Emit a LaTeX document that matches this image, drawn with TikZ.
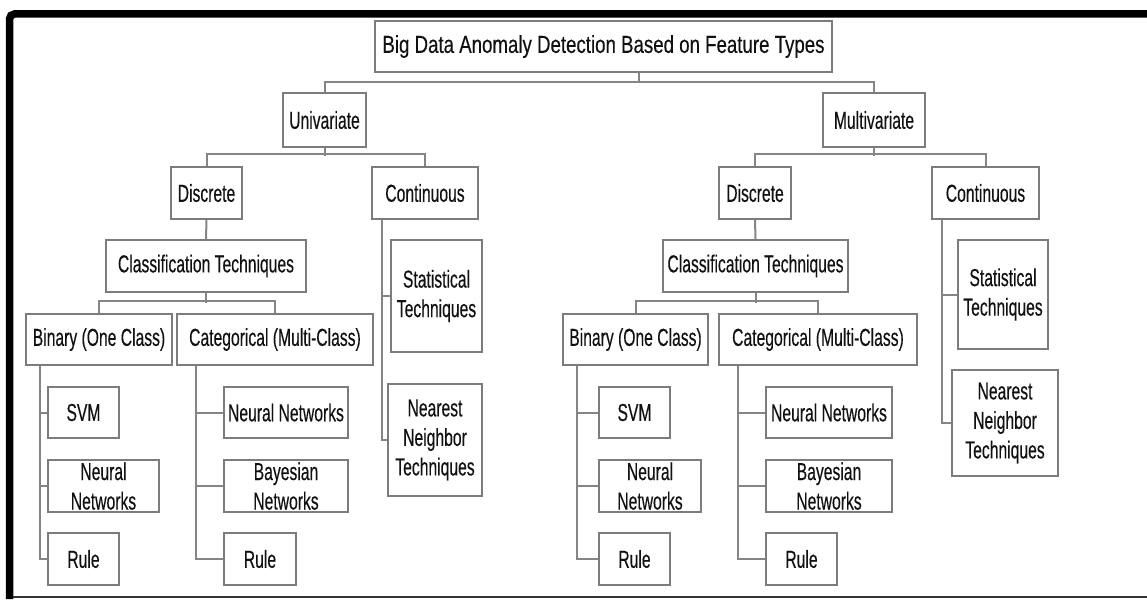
\documentclass[tikz,border=0pt]{standalone}
\usepackage{fontspec}
\setmainfont{Liberation Sans}[FakeStretch=0.64, FakeBold=0.3]
\newfontfamily\rootfont{Liberation Sans}[FakeStretch=0.762, FakeBold=0.3]
\definecolor{boxgray}{HTML}{7C7C7C}
\definecolor{linegray}{HTML}{858585}
\definecolor{txt}{HTML}{111111}
\newcommand{\boxfont}{\fontsize{24.5}{29.5}\selectfont}
\begin{document}
\begin{tikzpicture}[x=1pt,y=-1pt,
  box/.style={draw=boxgray, line width=1.6pt, fill=white, text=txt,
    inner sep=0pt, align=center, font=\boxfont},
  sz/.style 2 args={minimum width=#1pt, minimum height=#2pt},
  link/.style={draw=linegray, line width=2pt}]
  \useasboundingbox (0,0) rectangle (1147,599);
  % Frame
  \draw[line width=7.5pt, rounded corners=5pt] (9.5,599) -- (9.5,14) -- (1147,14);
  \draw[line width=2pt, black!80] (13,597) -- (1147,597);
  % Root and the two feature types
  \node[box, sz={457}{51}, font=\rootfont\boxfont] (root) at (603.5,46.5) {Big Data Anomaly Detection Based on Feature Types};
  \node[box, sz={83}{54}] (univ) at (324.5,120) {Univariate};
  \node[box, sz={102}{54}] (multi) at (874,120) {Multivariate};
  % Univariate branch
  \node[box, sz={71}{52}] (discU) at (206.5,193) {Discrete};
  \node[box, sz={106}{52}] (contU) at (425,193) {Continuous};
  \node[box, sz={200}{52}] (classU) at (206,266) {Classification Techniques};
  \node[box, sz={91}{112}] (statU) at (436.5,296) {Statistical\\Techniques};
  \node[box, sz={94}{112}] (nearU) at (435,440) {Nearest\\Neighbor\\Techniques};
  \node[box, sz={146}{51}] (binU) at (99,339.5) {Binary (One Class)};
  \node[box, sz={196}{51}] (catU) at (275,339.5) {Categorical (Multi-Class)};
  \node[box, sz={71}{51}] (svmU) at (83.5,412.5) {SVM};
  \node[box, sz={111}{52}] (nnbU) at (103.5,486) {Neural\\Networks};
  \node[box, sz={71}{52}] (rulebU) at (83.5,559) {Rule};
  \node[box, sz={124}{51}] (nncU) at (286,412.5) {Neural Networks};
  \node[box, sz={124}{52}] (bayU) at (286,486) {Bayesian\\Networks};
  \node[box, sz={72}{52}] (rulecU) at (260,559) {Rule};
  % Multivariate branch
  \node[box, sz={72}{52}] (discM) at (755,193) {Discrete};
  \node[box, sz={107}{52}] (contM) at (985.5,193) {Continuous};
  \node[box, sz={185}{52}] (classM) at (755.5,266) {Classification Techniques};
  \node[box, sz={90}{109}] (statM) at (1003,294.5) {Statistical\\Techniques};
  \node[box, sz={106}{106}] (nearM) at (1005,423) {Nearest\\Neighbor\\Techniques};
  \node[box, sz={145}{51}] (binM) at (635.5,339.5) {Binary (One Class)};
  \node[box, sz={198}{51}] (catM) at (818,339.5) {Categorical (Multi-Class)};
  \node[box, sz={71}{51}] (svmM) at (634.5,412.5) {SVM};
  \node[box, sz={102}{52}] (nnbM) at (650,486) {Neural\\Networks};
  \node[box, sz={71}{52}] (rulebM) at (634.5,559) {Rule};
  \node[box, sz={126}{51}] (nncM) at (829,412.5) {Neural Networks};
  \node[box, sz={126}{52}] (bayM) at (829,486) {Bayesian\\Networks};
  \node[box, sz={71}{52}] (rulecM) at (801.5,559) {Rule};
  % Buses between levels
  \coordinate (rb) at (639,82);
  \draw[link] (univ.north) |- (rb) -| (multi.north);
  \draw[link] (rb) -- (rb |- root.south);
  \draw[link] (discU.north) -- ++(0,-12) -| (contU.north);
  \draw[link] (univ.south) -- ++(0,8);
  \draw[link] (discM.north) -- ++(0,-12) -| (contM.north);
  \draw[link] (multi.south) -- ++(0,8);
  \draw[link] (discU.south) -- (classU.north);
  \draw[link] (discM.south) -- (classM.north);
  \draw[link] (binU.north) -- ++(0,-12) -| (catU.north);
  \draw[link] (classU.south) -- ++(0,10);
  \draw[link] (binM.north) -- ++(0,-12) -| (catM.north);
  \draw[link] (classM.south) -- ++(0,10);
  % Side spines down to the leaves
  \coordinate (bspU) at ([xshift=15pt]binU.south west);
  \coordinate (cspU) at ([xshift=20pt]catU.south west);
  \coordinate (tspU) at ([xshift=11pt]contU.south west);
  \coordinate (bspM) at ([xshift=15pt]binM.south west);
  \coordinate (cspM) at ([xshift=20pt]catM.south west);
  \coordinate (tspM) at ([xshift=11pt]contM.south west);
  \draw[link] (bspU) |- (rulebU.west);
  \draw[link] (cspU) |- (rulecU.west);
  \draw[link] (tspU) |- (nearU.west);
  \draw[link] (bspM) |- (rulebM.west);
  \draw[link] (cspM) |- (rulecM.west);
  \draw[link] (tspM) |- (nearM.west);
  \foreach \sp/\n in {bspU/svmU, bspU/nnbU, cspU/nncU, cspU/bayU, tspU/statU,
                      bspM/svmM, bspM/nnbM, cspM/nncM, cspM/bayM, tspM/statM}
    \draw[link] (\sp |- \n.west) -- (\n.west);
\end{tikzpicture}
\end{document}
